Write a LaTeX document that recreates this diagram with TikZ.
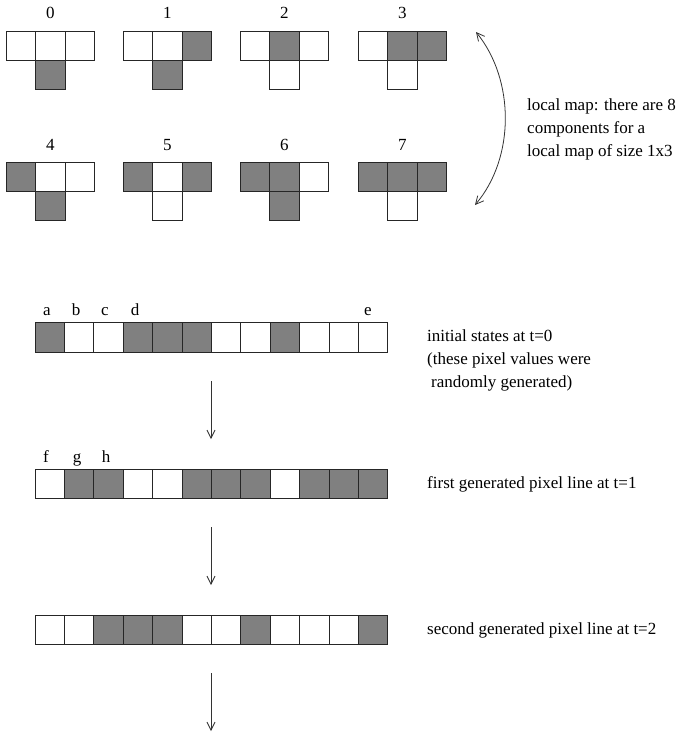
\documentclass[tikz,border=0pt]{standalone}
\usepackage{fontspec}
\setmainfont{Liberation Serif}
\usetikzlibrary{arrows.meta}

\colorlet{w}{white}
\colorlet{g}{black!50}

\tikzset{
  cell/.style={draw=black!85,line width=0.9pt},
  lbl/.style={font=\fontsize{17}{23}\selectfont,inner sep=0pt},
  txt/.style={lbl,align=left,anchor=west},
  flow/.style={-{Straight Barb[length=8pt,width=8pt]},line width=0.8pt,black!80},
  swing/.style={{Straight Barb[length=8pt,width=8pt]}-{Straight Barb[length=8pt,width=8pt]},line width=0.8pt,black!80},
}

\begin{document}
\begin{tikzpicture}[x=1pt,y=-1pt]
\useasboundingbox (0,0) rectangle (677,736);
% local map components 0..7
\foreach \n/\x/\y/\a/\b/\c/\d in {0/6/31/w/w/w/g,1/123/31/w/w/g/g,2/240/31/w/g/w/w,3/358/31/w/g/g/w,
                                  4/6/162/g/w/w/g,5/123/162/g/w/g/w,6/240/162/g/g/w/g,7/358/162/g/g/g/w}
  {\filldraw[cell,fill=\a] (\x,\y) rectangle ++(29.6,29);
   \filldraw[cell,fill=\b] ({\x+29.6},\y) rectangle ++(29.6,29);
   \filldraw[cell,fill=\c] ({\x+59.2},\y) rectangle ++(29.6,29);
   \filldraw[cell,fill=\d] ({\x+29.6},{\y+29}) rectangle ++(29.6,29);
   \node[lbl,anchor=base] (k\n) at ({\x+44.4},{\y-12}) {\n};}
\coordinate (mtop) at (476,32);
\coordinate (mbot) at (475,205);
\draw[swing] (mtop) .. controls (515,80) and (515,158) .. (mbot);
\node[txt] (maptxt) at (527,129) {local map: there are 8\\components for a\\local map of size 1x3};
% t=0
\foreach \c [count=\i from 0] in {g,w,w,g,g,g,w,w,g,w,w,w}
  {\filldraw[cell,fill=\c] ({35+\i*29.4},322) rectangle ++(29.4,30);}
\foreach \l/\x in {a/47,b/76,c/105,d/135,e/368}
  {\node[lbl,anchor=base] (\l) at (\x,315) {\l};}
\node[txt] (t0txt) at (427,360) {initial states at t=0\\(these pixel values were\\\hspace*{4pt}randomly generated)};
\coordinate (s1) at (211,381);
\coordinate (e1) at (211,439);
\draw[flow] (s1) -- (e1);
% t=1
\foreach \c [count=\i from 0] in {w,g,g,w,w,g,g,g,w,g,g,g}
  {\filldraw[cell,fill=\c] ({35+\i*29.4},469) rectangle ++(29.4,29);}
\foreach \l/\x in {f/46,g/77,h/106}
  {\node[lbl,anchor=base] (\l) at (\x,462) {\l};}
\node[txt] (t1txt) at (427,484) {first generated pixel line at t=1};
\coordinate (s2) at (211,527);
\coordinate (e2) at (211,585);
\draw[flow] (s2) -- (e2);
% t=2
\foreach \c [count=\i from 0] in {w,w,g,g,g,w,w,g,w,w,w,g}
  {\filldraw[cell,fill=\c] ({35+\i*29.4},615) rectangle ++(29.4,29);}
\node[txt] (t2txt) at (427,630) {second generated pixel line at t=2};
\coordinate (s3) at (211,673);
\coordinate (e3) at (211,731);
\draw[flow] (s3) -- (e3);
\end{tikzpicture}
\end{document}
